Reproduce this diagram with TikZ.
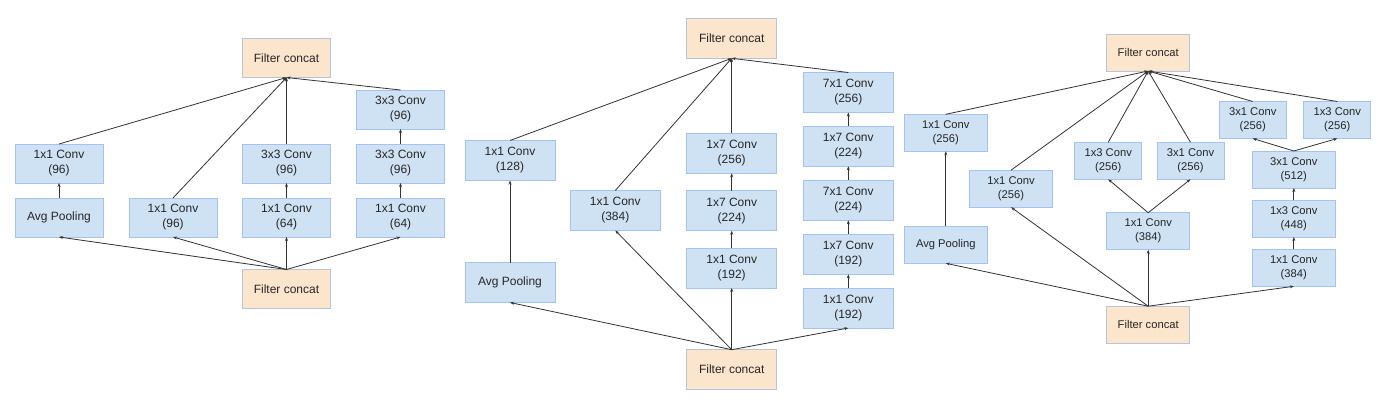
\documentclass[tikz,border=0pt]{standalone}
\usepackage{fontspec}
\setmainfont{Liberation Sans}
\usetikzlibrary{arrows.meta}
\definecolor{boxfill}{HTML}{CFE2F3}
\definecolor{boxline}{HTML}{A4C2F4}
\definecolor{catfill}{HTML}{FCE5CD}
\definecolor{catline}{HTML}{B8C4D8}
\definecolor{arr}{HTML}{333333}
\tikzset{
  blk/.style={draw=boxline, fill=boxfill, line width=0.9pt, inner sep=0pt, outer sep=0pt, align=center, text=black!85},
  cat/.style={draw=catline, fill=catfill, line width=0.9pt, inner sep=0pt, outer sep=0pt, align=center, text=black!85},
  fa/.style={font=\fontsize{12}{15}\selectfont},
  fb/.style={font=\fontsize{11.2}{14}\selectfont},
  pa/.style={minimum width=88pt, minimum height=39pt},
  pb/.style={minimum width=90pt, minimum height=40pt},
  pc/.style={minimum width=83pt, minimum height=37pt},
  pd/.style={minimum width=67pt, minimum height=37pt},
  con/.style={draw=arr, line width=0.8pt, -{Stealth[length=4pt,width=3pt]}}
}
\begin{document}
\begin{tikzpicture}[x=1pt,y=-1pt]
\useasboundingbox[fill=white] (0,0) rectangle (1395,402);
% ---------- Panel 1 ----------
\begin{scope}[every node/.append style={fa}]
\node[cat,pa] (t1) at (286.5,58) {Filter concat};
\node[blk,pa] (a1) at (59,163.5) {1x1 Conv\\(96)};
\node[blk,pa] (a2) at (59,217.5) {Avg Pooling};
\node[blk,pa] (a3) at (173,217.5) {1x1 Conv\\(96)};
\node[blk,pa] (a4) at (286.5,163.5) {3x3 Conv\\(96)};
\node[blk,pa] (a5) at (286.5,217.5) {1x1 Conv\\(64)};
\node[blk,pa] (a6) at (400.5,109.5) {3x3 Conv\\(96)};
\node[blk,pa] (a7) at (400.5,163.5) {3x3 Conv\\(96)};
\node[blk,pa] (a8) at (400.5,217.5) {1x1 Conv\\(64)};
\node[cat,pa] (b1) at (286.5,289) {Filter concat};
\end{scope}
\foreach \n in {a2,a3,a5,a8} \draw[con] (b1.north) -- (\n.south);
\draw[con] (a2.north) -- (a1.south);
\draw[con] (a5.north) -- (a4.south);
\draw[con] (a8.north) -- (a7.south);
\draw[con] (a7.north) -- (a6.south);
\foreach \n in {a1,a3,a4,a6} \draw[con] (\n.north) -- (t1.south);
% ---------- Panel 2 ----------
\begin{scope}[every node/.append style={fa}]
\node[cat,pb] (t2) at (731.7,38.3) {Filter concat};
\node[blk,pb] (c1) at (510,160.5) {1x1 Conv\\(128)};
\node[blk,pb] (c2) at (510,282.5) {Avg Pooling};
\node[blk,pb] (c3) at (615.3,210.5) {1x1 Conv\\(384)};
\node[blk,pb] (c4) at (731.7,153.3) {1x7 Conv\\(256)};
\node[blk,pb] (c5) at (731.7,210.7) {1x7 Conv\\(224)};
\node[blk,pb] (c6) at (731.7,268) {1x1 Conv\\(192)};
\node[blk,pb] (c7) at (848.3,92.5) {7x1 Conv\\(256)};
\node[blk,pb] (c8) at (848.3,146.3) {1x7 Conv\\(224)};
\node[blk,pb] (c9) at (848.3,200.3) {7x1 Conv\\(224)};
\node[blk,pb] (c10) at (848.3,254.3) {1x7 Conv\\(192)};
\node[blk,pb] (c11) at (848.3,308) {1x1 Conv\\(192)};
\node[cat,pb] (b2) at (731.7,369.7) {Filter concat};
\end{scope}
\foreach \n in {c2,c3,c6,c11} \draw[con] (b2.north) -- (\n.south);
\draw[con] (c2.north) -- (c1.south);
\draw[con] (c6.north) -- (c5.south);
\draw[con] (c5.north) -- (c4.south);
\draw[con] (c11.north) -- (c10.south);
\draw[con] (c10.north) -- (c9.south);
\draw[con] (c9.north) -- (c8.south);
\draw[con] (c8.north) -- (c7.south);
\foreach \n in {c1,c3,c4,c7} \draw[con] (\n.north) -- (t2.south);
% ---------- Panel 3 ----------
\begin{scope}[every node/.append style={fb}]
\node[cat,pc] (t3) at (1148.2,52.5) {Filter concat};
\node[blk,pc] (d1) at (945.8,132.8) {1x1 Conv\\(256)};
\node[blk,pc] (d2) at (945.8,244.8) {Avg Pooling};
\node[blk,pc] (d3) at (1011,188.7) {1x1 Conv\\(256)};
\node[blk,pd] (d4) at (1108.2,160.8) {1x3 Conv\\(256)};
\node[blk,pd] (d5) at (1190.5,160.8) {3x1 Conv\\(256)};
\node[blk,pc] (d6) at (1148.2,231.2) {1x1 Conv\\(384)};
\node[blk,pd] (d7) at (1252.7,120) {3x1 Conv\\(256)};
\node[blk,pd] (d8) at (1337.3,120) {1x3 Conv\\(256)};
\node[blk,pc] (d9) at (1293.8,169.5) {3x1 Conv\\(512)};
\node[blk,pc] (d10) at (1293.8,218.5) {1x3 Conv\\(448)};
\node[blk,pc] (d11) at (1293.8,267.8) {1x1 Conv\\(384)};
\node[cat,pc] (b3) at (1148.2,324.7) {Filter concat};
\end{scope}
\foreach \n in {d2,d3,d6,d11} \draw[con] (b3.north) -- (\n.south);
\draw[con] (d2.north) -- (d1.south);
\draw[con] (d6.north) -- (d4.south);
\draw[con] (d6.north) -- (d5.south);
\draw[con] (d11.north) -- (d10.south);
\draw[con] (d10.north) -- (d9.south);
\draw[con] (d9.north) -- (d7.south);
\draw[con] (d9.north) -- (d8.south);
\foreach \n in {d1,d3,d4,d5,d7,d8} \draw[con] (\n.north) -- (t3.south);
\end{tikzpicture}
\end{document}
